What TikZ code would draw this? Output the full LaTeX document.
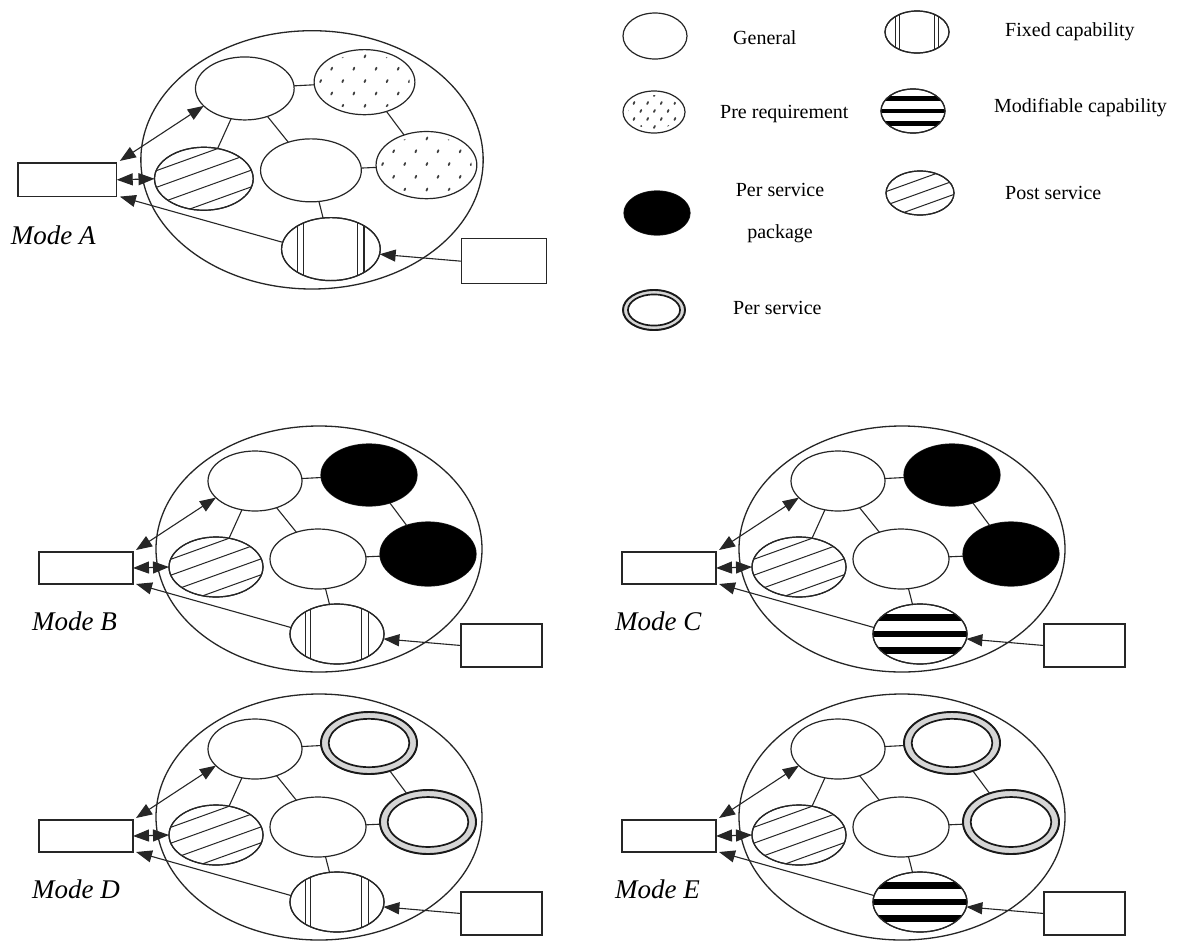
\documentclass[tikz,border=0pt]{standalone}
\usepackage{fontspec}
\setmainfont{Liberation Serif}
\usetikzlibrary{arrows.meta,shapes.geometric,calc}

\tikzset{
  outline/.style={draw=black!85, line width=1.2pt},
  blob/.style={ellipse, outline, fill=white, inner sep=0pt, outer sep=0pt, transform shape},
  rectbox/.style={rectangle, outline, fill=white, inner sep=0pt, outer sep=0pt, transform shape},
  link/.style={draw=black!85, line width=1.1pt},
  arr/.style={link, -{Triangle[length=16pt,width=12pt]}},
  darr/.style={link, {Triangle[length=16pt,width=12pt]}-{Triangle[length=16pt,width=12pt]}},
  dotmark/.style={draw=black!75, line width=1.8pt, line cap=round},
  hatchline/.style={draw=black!85, line width=1pt},
  modelabel/.style={font=\fontsize{27}{32}\selectfont\itshape, anchor=west, inner sep=0pt},
  legendtext/.style={font=\fontsize{20}{42}\selectfont, inner sep=0pt},
}

% sprinkled dots of a "pre requirement" element
\newcommand\dotsfill[4]{%
  \begin{scope}
    \clip (#1,#2) ellipse ({#3-5} and {#4-4});
    \foreach \rr in {-2,...,2}{
      \foreach \cc in {-3,...,3}{
        \pgfmathsetmacro\dx{(\cc+0.5*mod(\rr+2,2))*0.44*#3}
        \pgfmathsetmacro\dy{\rr*0.38*#4}
        \draw[dotmark] ($(#1,#2)+(\dx,\dy)$) -- ++(0.9,-2);
      }
    }
  \end{scope}}

% slanted hatching of a "post service" element
\newcommand\hatchfill[5]{%
  \begin{scope}
    \clip (#1,#2) ellipse (#3 and #4);
    \foreach \k in {#5}{
      \draw[hatchline] ($(#1,#2)+(-#3,{\k*#4+0.36*#3})$) -- ($(#1,#2)+(#3,{\k*#4-0.36*#3})$);
    }
  \end{scope}
  \draw[outline] (#1,#2) ellipse (#3 and #4);}

% vertical rules of a "fixed capability" element
\newcommand\fixedfill[4]{%
  \begin{scope}
    \clip (#1,#2) ellipse (#3 and #4);
    \foreach \f/\w in {-0.68/0.9,-0.56/0.9,0.53/0.9,0.67/1.7}{
      \draw[draw=black!85, line width=\w pt] ($(#1,#2)+({\f*#3},-#4)$) -- ++(0,{2*#4});
    }
  \end{scope}
  \draw[outline] (#1,#2) ellipse (#3 and #4);}

% black bands of a "modifiable capability" element
\newcommand\modfill[4]{%
  \begin{scope}
    \clip (#1,#2) ellipse (#3 and #4);
    \foreach \f in {-0.55,0,0.55}{
      \fill[black] ($(#1,#2)+(-#3,{(\f-0.11)*#4})$) rectangle ++({2*#3},{0.22*#4});
    }
  \end{scope}
  \draw[outline] (#1,#2) ellipse (#3 and #4);}

% solid "per service package" element
\newcommand\blackfill[4]{%
  \fill[black] (#1,#2) ellipse (#3 and #4);}

% double ring of a "per service" element
\newcommand\ringfill[4]{%
  \draw[draw=black!90, fill=black!16, line width=1.9pt] (#1,#2) ellipse (#3 and #4);
  \draw[draw=black!90, fill=white, line width=1.7pt] (#1,#2) ellipse ({0.84*#3} and {0.78*#4});}

% one mode: #1 name prefix, #2 origin, #3 scale, #4 upper right kind, #5 bottom kind, #6 label
\newcommand\panel[6]{%
  \begin{scope}[shift={#2}, scale=#3]
    \draw[outline, line width=1.3pt] (280,-3) ellipse (163 and 123);
    \node[rectbox, minimum width=94pt, minimum height=32pt] (#1R) at (47,16) {};
    \node[rectbox, minimum width=81pt, minimum height=43pt] (#1RR) at (462.5,93.5) {};
    \node[blob, minimum width=94pt, minimum height=60pt] (#1G1) at (216,-71) {};
    \node[blob, minimum width=96pt, minimum height=62pt] (#1P1) at (330,-77) {};
    \node[blob, minimum width=96pt, minimum height=60pt] (#1G2) at (279,7) {};
    \node[blob, minimum width=96pt, minimum height=64pt] (#1P2) at (389,2) {};
    \node[blob, minimum width=94pt, minimum height=60pt] (#1H) at (177,15) {};
    \node[blob, minimum width=94pt, minimum height=60pt] (#1F) at (298,82) {};
    #4{330}{-77}{48}{31}
    #4{389}{2}{48}{32}
    \hatchfill{177}{15}{47}{30}{-0.8,-0.27,0.27,0.8}
    #5{298}{82}{47}{30}
    \draw[link] (#1G1) -- (#1P1);
    \draw[link] (#1G1) -- (#1H);
    \draw[link] (#1G1) -- (#1G2);
    \draw[link] (#1P1) -- (#1P2);
    \draw[link] (#1G2) -- (#1P2);
    \draw[link] (#1G2) -- (#1F);
    \draw[darr] ([xshift=3pt,yshift=2pt]#1R.north east) -- (#1G1.203);
    \draw[darr] (#1R.east) -- (#1H.west);
    \draw[arr] (#1F.172) -- ([xshift=3pt]#1R.south east);
    \draw[arr] (#1RR.west) -- (#1F.-6);
    \node[modelabel] (#1L) at (-7,69) {#6};
  \end{scope}}

\begin{document}
\begin{tikzpicture}[x=1pt, y=-1pt]
  \fill[white] (0,0) rectangle (1180,940);
  \useasboundingbox (0,0) rectangle (1180,940);

  % legend, left column
  \node[blob, minimum width=64pt, minimum height=46pt] (LGen) at (655,36) {};
  \node[legendtext, anchor=west] (LGenT) at (733,38) {General};
  \node[blob, minimum width=62pt, minimum height=42pt] (LPre) at (654,112) {};
  \dotsfill{654}{112}{31}{21}
  \node[legendtext, anchor=west] (LPreT) at (720,114) {Pre requirement};
  \node[blob, minimum width=66pt, minimum height=44pt] (LPkg) at (657,213) {};
  \blackfill{657}{213}{33}{22}
  \node[legendtext, align=center] (LPkgT) at (780,213) {Per service\\package};
  \node[blob, minimum width=62pt, minimum height=40pt] (LPer) at (654,310) {};
  \ringfill{654}{310}{31}{20}
  \node[legendtext, anchor=west] (LPerT) at (733,308) {Per service};

  % legend, right column
  \node[blob, minimum width=64pt, minimum height=42pt] (LFix) at (917,32) {};
  \fixedfill{917}{32}{32}{21}
  \node[legendtext, anchor=west] (LFixT) at (1005,32) {Fixed capability};
  \node[blob, minimum width=64pt, minimum height=44pt] (LMod) at (913,111) {};
  \modfill{913}{111}{32}{22}
  \node[legendtext, anchor=west] (LModT) at (994,108) {Modifiable capability};
  \node[blob, minimum width=68pt, minimum height=44pt] (LPost) at (920,193) {};
  \hatchfill{920}{193}{34}{22}{-0.62,0,0.62}
  \node[legendtext, anchor=west] (LPostT) at (1005,193) {Post service};

  % the five modes
  \panel{A}{(18,163)}{1.05}{\dotsfill}{\fixedfill}{Mode A}
  \panel{B}{(39,552)}{1}{\blackfill}{\fixedfill}{Mode B}
  \panel{C}{(622,552)}{1}{\blackfill}{\modfill}{Mode C}
  \panel{D}{(39,820)}{1}{\ringfill}{\fixedfill}{Mode D}
  \panel{E}{(622,820)}{1}{\ringfill}{\modfill}{Mode E}
\end{tikzpicture}
\end{document}
